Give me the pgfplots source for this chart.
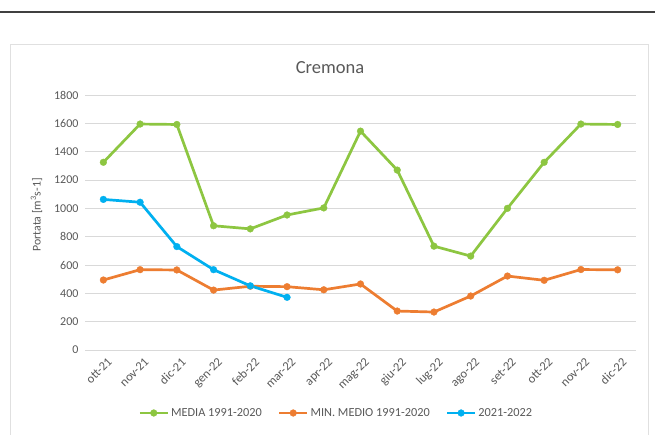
\documentclass[border=0pt]{standalone}
\usepackage{fontspec}
\setmainfont{Carlito}
\usepackage{pgfplots}
\pgfplotsset{compat=1.18}
\definecolor{cgreen}{HTML}{8DC641}
\definecolor{corange}{HTML}{ED7D31}
\definecolor{cblue}{HTML}{00B0F0}
\definecolor{txt}{HTML}{595959}
\definecolor{grd}{HTML}{D9D9D9}

\begin{document}
\begin{tikzpicture}[x=1pt,y=1pt]
\path[use as bounding box] (0,0) rectangle (655,434);
\draw[black!75, line width=1.2pt] (0,422) -- (655,422);
\draw[black!12, line width=1pt, fill=white] (10,-2) rectangle (648,389);
\node[text=txt, font=\fontsize{18.5}{22}\selectfont] at (330,366) {Cremona};
\begin{axis}[
  at={(85pt,84pt)}, anchor=south west,
  width=551pt, height=255pt, scale only axis,
  xmin=-0.5, xmax=14.5, ymin=0, ymax=1800,
  ytick={0,200,...,1800},
  xtick={0,...,14},
  xticklabels={ott-21,nov-21,dic-21,gen-22,feb-22,mar-22,apr-22,mag-22,giu-22,lug-22,ago-22,set-22,ott-22,nov-22,dic-22},
  /pgf/number format/assume math mode=true,
  /pgf/number format/set thousands separator={},
  x tick label style={rotate=45, anchor=north east, font=\fontsize{12.5}{14}\selectfont, text=txt, xshift=1pt, yshift=-4pt},
  y tick label style={font=\fontsize{12}{14}\selectfont, text=txt, xshift=-3pt},
  axis line style={draw=none}, major tick length=0pt,
  ymajorgrids, grid style={grd, line width=0.9pt},
  clip=false,
  legend columns=3,
  legend style={at={(0.456,-0.247)}, anchor=center, draw=none, fill=none,
    font=\fontsize{12.3}{14}\selectfont, text=txt,
    /tikz/every even column/.append style={column sep=14pt}},
  legend image code/.code={\draw[#1, mark repeat=2, mark phase=2] plot coordinates {(0pt,0pt) (14pt,0pt) (28pt,0pt)};},
  every axis plot/.append style={line width=2.7pt, mark=*, mark size=3.4pt, mark options={solid, line width=0.3pt}},
]
\addplot[color=cgreen] coordinates {
  (0,1325) (1,1595) (2,1592) (3,877) (4,855) (5,953) (6,1003) (7,1545)
  (8,1270) (9,733) (10,663) (11,1000) (12,1325) (13,1595) (14,1592)};
\addlegendentry{MEDIA 1991-2020}
\addplot[color=corange] coordinates {
  (0,494) (1,567) (2,565) (3,423) (4,450) (5,447) (6,425) (7,466)
  (8,275) (9,268) (10,381) (11,522) (12,492) (13,568) (14,566)};
\addlegendentry{MIN. MEDIO 1991-2020}
\addplot[color=cblue] coordinates {
  (0,1063) (1,1043) (2,730) (3,567) (4,453) (5,372)};
\addlegendentry{2021-2022}
\node[rotate=90, text=txt, font=\fontsize{11.8}{13}\selectfont] at (axis description cs:-0.088,0.53) {Portata [m\textsuperscript{3}s-1]};
\end{axis}
\end{tikzpicture}
\end{document}
